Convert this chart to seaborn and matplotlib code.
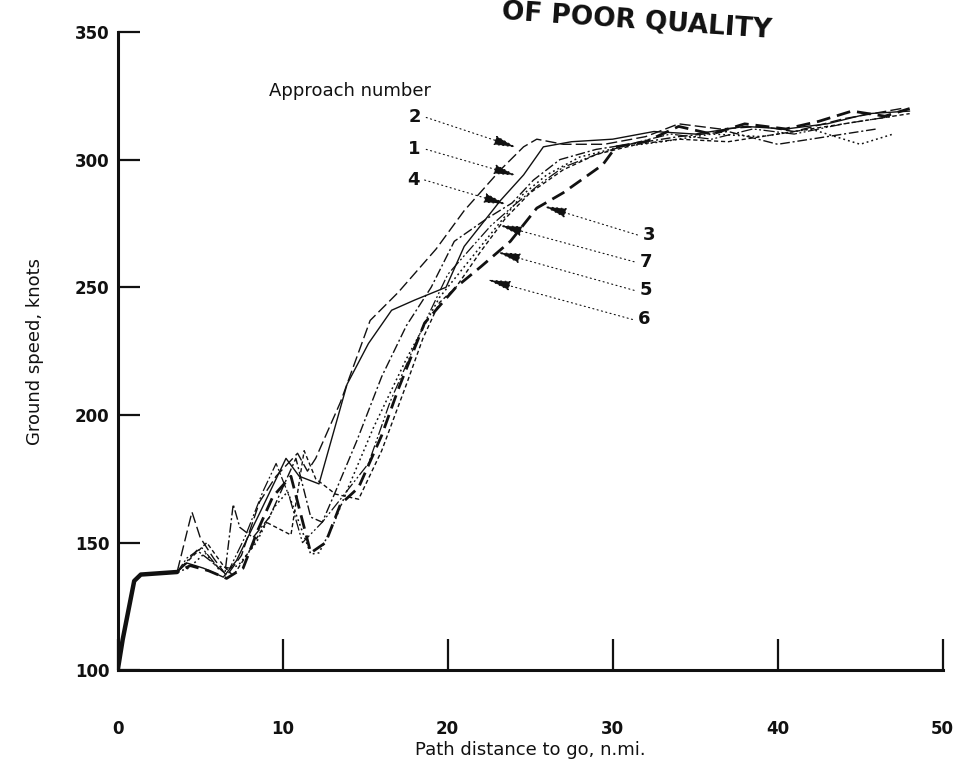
import numpy as np
import pandas as pd
import seaborn as sns
import matplotlib.pyplot as plt

# shared touchdown / low-speed segment (all approaches overlap here)
start_x = [0.0, 0.3, 1.0, 1.4, 2.5, 3.6]
start_y = [100, 112, 135, 137.5, 138, 138.5]

# approach 1 .. 7
app1_x = [4.2, 5.2, 6.4, 7.2, 8.6, 10.2, 11.0, 12.2, 13.9, 15.2, 16.6, 18.0, 19.9, 21.0,
          23.2, 24.6, 25.8, 27.5, 30.0, 32.5, 35.0, 38.0, 40.5, 43.0, 45.5, 48.0]
app1_y = [142, 140, 136.5, 143, 161.5, 183, 176, 173, 212, 228, 241, 245, 250, 266,
          284, 294, 305, 307, 308, 311, 310, 313, 312, 314, 318, 319]

app2_x = [4.5, 5.0, 5.8, 6.6, 7.5, 8.6, 9.6, 10.9, 11.5, 12.0, 13.5, 15.3, 17.0, 19.3,
          21.0, 23.2, 24.6, 25.4, 27.0, 29.5, 32.0, 34.0, 36.5, 39.0, 41.0, 44.0, 47.5]
app2_y = [162, 152, 144, 137, 145, 166, 176, 185, 178, 183, 205, 237, 248, 265,
          280, 296, 305, 308, 306, 306, 309, 314, 312, 313, 311, 316, 320]

app3_x = [4.4, 5.5, 6.6, 7.6, 8.5, 9.4, 10.5, 11.7, 12.6, 13.5, 14.6, 16.0, 17.0, 18.6,
          20.5, 22.0, 23.8, 25.4, 27.0, 29.4, 30.2, 32.0, 34.0, 36.0, 38.0, 40.5, 42.5,
          44.5, 46.5, 48.0]
app3_y = [141, 139, 136, 140, 155, 168, 176, 146, 150, 165, 171.6, 192, 210, 236,
          250, 258, 268, 281, 287, 298, 305, 307, 313, 310, 314, 312, 315,
          319, 317, 320]

app4_x = [4.8, 5.6, 6.5, 7.0, 7.4, 8.2, 9.2, 10.8, 11.7, 12.4, 13.2, 14.5, 16.0, 17.5,
          19.0, 20.4, 22.4, 23.9, 25.2, 26.8, 29.0, 31.0, 34.0, 37.0, 40.0, 43.0, 46.0]
app4_y = [147, 143, 138, 165, 156, 152, 160, 183, 160, 158, 170, 190, 215, 235,
          250, 268, 277, 283, 292, 300, 304, 306, 309, 311, 306, 309, 312]

app5_x = [4.3, 5.3, 6.2, 7.3, 8.4, 9.5, 10.3, 11.7, 12.2, 13.0, 14.0, 15.5, 17.5, 19.5,
          21.5, 23.0, 24.5, 26.0, 28.0, 30.5, 33.0, 36.0, 39.0, 42.0, 45.0, 47.0]
app5_y = [140, 146, 139, 141, 150, 164, 170, 145.5, 146, 156, 172, 195, 222, 246,
          262, 274, 286, 294, 301, 305, 307, 310, 309, 312, 306, 310]

app6_x = [4.6, 5.4, 6.4, 7.0, 8.0, 9.0, 10.5, 11.3, 12.0, 13.2, 14.6, 16.0, 17.5, 18.5,
          19.5, 20.5, 22.0, 23.5, 25.0, 27.0, 29.0, 31.5, 34.0, 37.0, 40.0, 43.0, 46.0, 48.0]
app6_y = [145, 150, 141, 137, 147, 158, 153, 186, 175, 169, 167, 186, 212, 230,
          244, 250, 264, 277, 287, 296, 302, 306, 308, 307, 310, 313, 316, 318]

app7_x = [4.2, 5.1, 6.0, 6.8, 7.7, 8.8, 9.6, 10.4, 11.2, 12.4, 13.5, 15.2, 16.5, 18.6,
          20.0, 21.5, 22.6, 24.0, 25.5, 27.0, 29.0, 31.0, 33.5, 36.0, 38.5, 41.0, 44.0, 47.0]
app7_y = [144, 148, 141, 140, 152, 170, 181, 168, 150, 158, 167, 181, 205, 236,
          255, 266, 274, 282, 290, 297, 302, 306, 310, 308, 312, 310, 314, 317]

# label text position, arrow tip (data units)
label_pos = {"2": (18.0, 316.5), "1": (18.0, 304.0), "4": (17.9, 292.0),
             "3": (32.2, 270.5), "7": (32.0, 260.0), "5": (32.0, 248.8), "6": (31.9, 237.4)}
arrow_tip = {"2": (24.2, 304.7), "1": (24.2, 293.7), "4": (23.6, 282.4),
             "3": (25.8, 281.8), "7": (23.1, 274.4), "5": (23.0, 263.8), "6": (22.4, 253.0)}

series = {"1": (app1_x, app1_y), "2": (app2_x, app2_y), "3": (app3_x, app3_y),
          "4": (app4_x, app4_y), "5": (app5_x, app5_y), "6": (app6_x, app6_y),
          "7": (app7_x, app7_y)}

frames = []
for name, (xs, ys) in series.items():
    frames.append(pd.DataFrame({"dist": start_x + xs, "speed": start_y + ys, "approach": name}))
df = pd.concat(frames, ignore_index=True)

sns.set_theme(style="ticks")
plt.rcParams["font.family"] = ["DejaVu Sans"]

ink = "#111111"
styles = {"1": (None, 1.0), "2": ((8, 3), 1.0), "3": ((5, 2.5), 2.0),
          "4": ((7, 2, 1.5, 2), 1.0), "5": ((1.2, 2), 1.1), "6": ((3, 2), 1.0),
          "7": ((9, 2, 1.5, 2, 1.5, 2), 0.9)}

fig = plt.figure(figsize=(9.57, 7.6), dpi=100)
ax = fig.add_axes([0.123, 0.118, 0.862, 0.84])

for name in series:
    dash, lw = styles[name]
    sub = df[df["approach"] == name]
    sns.lineplot(data=sub, x="dist", y="speed", sort=False, estimator=None,
                 color=ink, lw=lw, ax=ax, legend=False)
    if dash is not None:
        ax.lines[-1].set_dashes(dash)

# heavy common segment near touchdown
sns.lineplot(x=start_x, y=start_y, sort=False, estimator=None, color=ink, lw=3.2, ax=ax)

ax.set_xlim(0, 50)
ax.set_ylim(100, 350)
ax.set_xticks([0, 10, 20, 30, 40, 50])
ax.set_yticks([100, 150, 200, 250, 300, 350])
sns.despine(ax=ax)
for s in ("left", "bottom"):
    ax.spines[s].set_linewidth(2.2)
    ax.spines[s].set_color(ink)
ax.tick_params(axis="x", direction="in", length=22, width=1.6, pad=36, labelsize=12, colors=ink)
ax.tick_params(axis="y", direction="in", length=16, width=1.6, pad=6, labelsize=12, colors=ink)
for t in ax.get_xticklabels() + ax.get_yticklabels():
    t.set_fontweight("bold")

ax.set_xlabel("Path distance to go, n.mi.", fontsize=13, color=ink, labelpad=2)
ax.set_ylabel("Ground speed, knots", fontsize=13, color=ink, labelpad=22)

ax.text(14.1, 327, "Approach number", fontsize=13, ha="center", va="center", color=ink)
for name, (lx, ly) in label_pos.items():
    tx, ty = arrow_tip[name]
    ax.text(lx, ly, name, fontsize=13, fontweight="bold", ha="center", va="center", color=ink)
    off = 0.7 if lx < tx else -0.7
    ax.annotate("", xy=(tx, ty), xytext=(lx + off, ly),
                arrowprops=dict(arrowstyle="-|>,head_length=1.2,head_width=0.25",
                                linestyle=(0, (1, 3)), lw=0.8, color=ink,
                                shrinkA=0, shrinkB=0))

fig.text(0.665, 0.972, "OF POOR QUALITY", fontsize=19, fontweight="bold",
         rotation=-4, ha="center", va="center", color=ink)

fig.savefig("out.png", dpi=100)
